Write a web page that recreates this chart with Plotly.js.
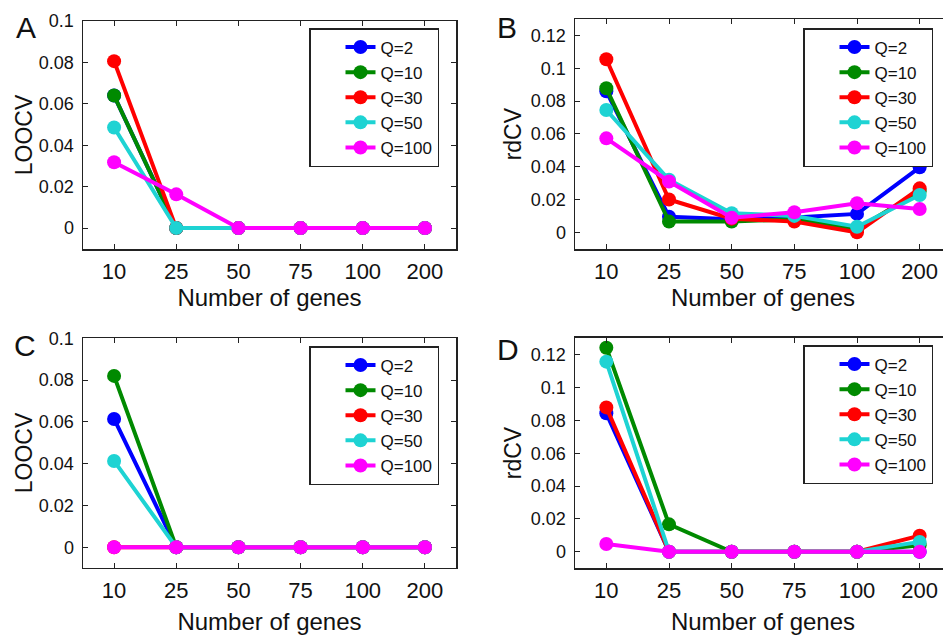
<!DOCTYPE html>
<html>
<head>
<meta charset="utf-8">
<script src="https://cdn.plot.ly/plotly-3.0.1.min.js"></script>
<style>
html, body { margin: 0; padding: 0; background: #fff; overflow: hidden; width: 943px; height: 635px; }
#chart { width: 960px; height: 635px; }
</style>
</head>
<body>
<div id="chart"></div>
<script>
// Categories (number of genes)
var genes = ['10', '25', '50', '75', '100', '200'];
var seriesNames = ['Q=2', 'Q=10', 'Q=30', 'Q=50', 'Q=100'];
var seriesColors = ['#0000ff', '#008a00', '#ff0000', '#1ed3d3', '#ff00ff'];

// Panel A: LOOCV
var A_Q2   = [0.064, 0, 0, 0, 0, 0];
var A_Q10  = [0.064, 0, 0, 0, 0, 0];
var A_Q30  = [0.0806, 0, 0, 0, 0, 0];
var A_Q50  = [0.0486, 0, 0, 0, 0, 0];
var A_Q100 = [0.0318, 0.0163, 0, 0, 0, 0];

// Panel B: rdCV
var B_Q2   = [0.086, 0.0095, 0.008, 0.009, 0.0112, 0.0396];
var B_Q10  = [0.0878, 0.0065, 0.0065, 0.008, 0.002, 0.025];
var B_Q30  = [0.1055, 0.020, 0.0083, 0.0065, 0.0, 0.0268];
var B_Q50  = [0.0746, 0.032, 0.0116, 0.010, 0.0034, 0.0227];
var B_Q100 = [0.0573, 0.031, 0.0089, 0.0122, 0.0177, 0.0142];

// Panel C: LOOCV
var C_Q2   = [0.0614, 0, 0, 0, 0, 0];
var C_Q10  = [0.082, 0, 0, 0, 0, 0];
var C_Q30  = [0, 0, 0, 0, 0, 0];
var C_Q50  = [0.0413, 0, 0, 0, 0, 0];
var C_Q100 = [0, 0, 0, 0, 0, 0];

// Panel D: rdCV
var D_Q2   = [0.0844, 0, 0, 0, 0, 0];
var D_Q10  = [0.1244, 0.0167, 0, 0, 0, 0.004];
var D_Q30  = [0.088, 0, 0, 0, 0, 0.0098];
var D_Q50  = [0.1159, 0, 0, 0, 0, 0.006];
var D_Q100 = [0.0047, 0, 0, 0, 0, 0];

var panels = [
  {ax: '', data: [A_Q2, A_Q10, A_Q30, A_Q50, A_Q100], legend: 'legend'},
  {ax: '2', data: [B_Q2, B_Q10, B_Q30, B_Q50, B_Q100], legend: 'legend2'},
  {ax: '3', data: [C_Q2, C_Q10, C_Q30, C_Q50, C_Q100], legend: 'legend3'},
  {ax: '4', data: [D_Q2, D_Q10, D_Q30, D_Q50, D_Q100], legend: 'legend4'}
];

var traces = [];
panels.forEach(function (p) {
  p.data.forEach(function (vals, i) {
    traces.push({
      type: 'scatter', mode: 'lines+markers',
      x: genes, y: vals, name: seriesNames[i],
      xaxis: 'x' + p.ax, yaxis: 'y' + p.ax,
      legend: p.legend,
      line: {color: seriesColors[i], width: 4},
      marker: {color: seriesColors[i], size: 14},
      cliponaxis: false
    });
  });
});

var W = 960, H = 635;
var FONT = 'Liberation Sans, Arial, sans-serif';
function xa(x0, x1, anchor, standoff) {
  return {
    domain: [x0 / W, x1 / W], anchor: anchor, type: 'category',
    range: [-0.5, 5.5], showgrid: false, zeroline: false,
    showline: true, linecolor: '#222', linewidth: 1.5, mirror: 'ticks',
    ticks: 'inside', ticklen: 5, tickwidth: 1, tickcolor: '#222',
    tickfont: {family: FONT, size: 22, color: '#111'},
    ticklabelstandoff: 2,
    title: {text: 'Number of genes', font: {family: FONT, size: 24, color: '#111'}, standoff: standoff},
    fixedrange: true
  };
}
function ya(y0, y1, anchor, range, dtick, title, standoff) {
  return {
    domain: [1 - y1 / H, 1 - y0 / H], anchor: anchor,
    range: range, dtick: dtick, tick0: 0, showgrid: false, zeroline: false,
    showline: true, linecolor: '#222', linewidth: 1.5, mirror: 'ticks',
    ticks: 'inside', ticklen: 5, tickwidth: 1, tickcolor: '#222',
    tickfont: {family: FONT, size: 18, color: '#111'},
    ticklabelstandoff: 4,
    title: {text: title, font: {family: FONT, size: 23, color: '#111'}, standoff: standoff},
    fixedrange: true
  };
}
function leg(x, y) {
  return {
    x: x / W, y: 1 - y / H, xanchor: 'left', yanchor: 'top',
    bgcolor: '#fff', bordercolor: '#222', borderwidth: 1.5,
    font: {family: FONT, size: 17, color: '#111'},
    indentation: 30,
    tracegroupgap: 0, itemclick: false, itemdoubleclick: false
  };
}

var layout = {
  width: W, height: H,
  margin: {l: 0, r: 0, t: 0, b: 0},
  paper_bgcolor: '#fff', plot_bgcolor: '#fff',
  showlegend: true,
  xaxis: xa(83, 456, 'y', 0),
  yaxis: ya(21, 249, 'x', [-0.0101, 0.1], 0.02, 'LOOCV', 0),
  xaxis2: xa(575, 951, 'y2', 0),
  yaxis2: ya(19.3, 249, 'x2', [-0.0102, 0.1299], 0.02, 'rdCV', 3),
  xaxis3: xa(83, 456, 'y3', 13),
  yaxis3: ya(338.3, 567.7, 'x3', [-0.0098, 0.1], 0.02, 'LOOCV', 0),
  xaxis4: xa(575, 951, 'y4', 13),
  yaxis4: ya(337.7, 568.3, 'x4', [-0.0101, 0.1305], 0.02, 'rdCV', 3),
  legend: leg(309, 28),
  legend2: leg(803, 28),
  legend3: leg(309, 346),
  legend4: leg(803, 345),
  annotations: [
    {text: 'A', x: 26 / W, y: 1 - 27 / H},
    {text: 'B', x: 507 / W, y: 1 - 27 / H},
    {text: 'C', x: 25 / W, y: 1 - 345 / H},
    {text: 'D', x: 508 / W, y: 1 - 349 / H}
  ].map(function (a) {
    return {text: a.text, x: a.x, y: a.y, xref: 'paper', yref: 'paper',
      xanchor: 'center', yanchor: 'middle', showarrow: false,
      font: {family: FONT, size: 30, color: '#111'}};
  })
};

Plotly.newPlot('chart', traces, layout, {staticPlot: true, displayModeBar: false});
</script>
</body>
</html>
